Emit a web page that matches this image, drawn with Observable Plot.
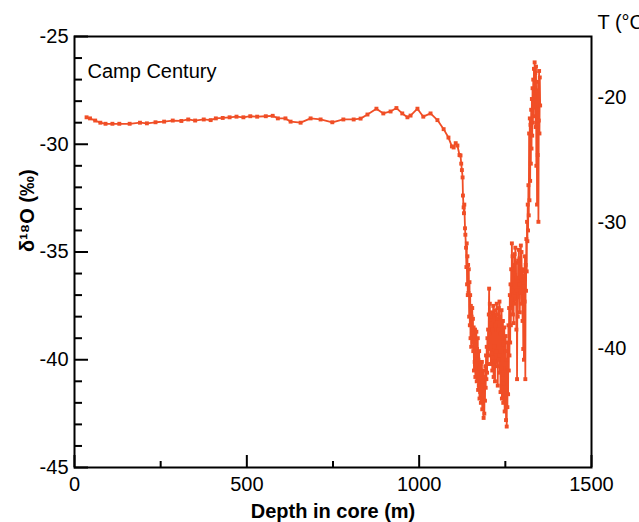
<!DOCTYPE html>
<html><head><meta charset="utf-8">
<script src="https://cdn.jsdelivr.net/npm/d3@7"></script>
<script src="https://cdn.jsdelivr.net/npm/@observablehq/plot@0.6"></script>
<style>html,body{margin:0;padding:0;overflow:hidden;background:#fff}</style>
</head><body><div id="chart"></div>
<script>
// Depth (m) and δ18O (‰)
const depth = [
 35,45,60,75,90,110,130,160,190,210,235,260,285,310,330,350,375,395,410,430,450,470,490,510,530,555,575,590,612,627,656,685,714,748,780,810,830,850,876,896,917,934,951,966,975,995,1012,1033,1053,1071,1085,1095,1100,1106,1111,1117,
 1120,1122,1124,1126,1127,1129,1130,1131,1133,1134,1136,
 1137,1138,1139,1140,1141,1142,1143,1144,1145,1146,1147,1148,1149,1150,1151,1152,1153,1154,1155,1156,1157,
 1158,1159,1160,1161,1162,1163,1164,1165,1166,1167,1168,1169,1170,1171,1172,1173,1174,1175,1176,1177,1178,1179,1180,1181,1182,1183,1184,1185,1186,1187,1188,1189,1190,1191,1192,1193,1194,1195,1196,1197,1198,1199,
 1200,1201,1202,1203,1204,1205,1206,1207,1208,1209,1210,1211,1212,1213,1214,1215,1216,1217,1218,1219,1220,1221,1222,1223,1224,1225,1226,1227,1228,1229,1230,1231,1232,1233,1234,1235,1236,1237,1238,1239,1240,1241,1242,1243,1244,1245,1246,1247,1248,1249,1250,1251,1252,1253,1254,1255,1256,1257,1258,1259,1260,1261,1262,
 1263,1264,1265,1266,1267,1268,1269,1270,1271,1272,1273,1274,1275,1276,1277,1278,1279,1280,1281,1282,1283,1284,1285,1286,1287,1288,1289,1290,1291,1292,1293,1294,1295,1296,1297,1298,1299,1300,1301,1302,1303,1304,1305,1306,1307,1308,1309,1310,1311,1312,
 1313,1314,1315,1316,1317,1318,1319,1320,1321,1322,1323,1324,1325,1326,1327,1328,1329,1330,1331,1332,1333,1334,1335,1336,1337,1338,1339,1340,1341,1342,1343,1344,1345,1346,1347,1348,1349,1350,1351
];
const d18O = [
 -28.75,-28.8,-28.9,-29.0,-29.05,-29.05,-29.05,-29.05,-29.0,-29.03,-28.98,-28.95,-28.9,-28.92,-28.85,-28.9,-28.85,-28.88,-28.8,-28.78,-28.75,-28.72,-28.75,-28.7,-28.72,-28.7,-28.68,-28.8,-28.8,-28.95,-29.0,-28.8,-28.85,-28.98,-28.85,-28.85,-28.81,-28.62,-28.35,-28.57,-28.48,-28.32,-28.57,-28.75,-28.67,-28.35,-28.72,-28.57,-28.88,-29.3,-29.69,-30.1,-30.15,-29.95,-30.06,-30.5,
 -30.52,-30.9,-31.2,-31.54,-32.38,-32.93,-33.2,-32.8,-33.9,-34.2,-34.8,
 -35.7,-34.6,-36.5,-35.2,-37.0,-35.6,-36.9,-35.8,-38.0,-36.4,-38.4,-37.0,-39.0,-37.5,-39.4,-38.0,-38.8,-37.6,-39.2,-38.1,-39.6,
 -38.5,-40.5,-38.9,-40.1,-38.6,-40.8,-39.3,-40.2,-38.7,-41.0,-39.5,-40.6,-39.0,-41.4,-40.0,-41.2,-39.6,-41.8,-40.4,-41.5,-40.2,-42.0,-40.7,-41.6,-40.1,-42.3,-41.0,-41.9,-40.5,-42.7,-41.2,-42.5,-40.8,-41.9,-40.3,-41.3,-39.8,-40.9,-39.4,-40.6,-39.0,-40.2,
 -38.6,-39.8,-37.9,-36.7,-38.8,-37.4,-39.5,-38.0,-40.2,-38.3,-39.7,-37.8,-40.5,-38.6,-39.9,-37.5,-40.8,-38.2,-39.4,-37.7,-41.0,-38.4,-40.1,-37.9,-39.6,-37.4,-40.3,-38.1,-41.2,-38.6,-40.0,-37.6,-39.8,-37.3,-40.6,-38.0,-41.5,-38.8,-40.4,-37.7,-41.8,-39.0,-40.7,-38.2,-42.0,-39.3,-41.1,-38.5,-42.4,-39.6,-41.4,-38.9,-42.8,-40.0,-43.1,-40.4,-42.2,-39.2,-41.6,-38.4,-40.5,-37.6,-39.8,
 -37.0,-39.2,-36.5,-38.4,-35.8,-37.6,-34.6,-36.8,-35.2,-37.9,-35.6,-38.3,-36.0,-37.4,-35.1,-36.9,-34.8,-37.2,-35.5,-38.6,-36.2,-40.9,-36.8,-38.0,-35.4,-37.1,-34.9,-36.5,-35.3,-37.8,-35.7,-36.9,-34.7,-36.3,-35.0,-37.4,-35.8,-38.2,-36.1,-39.5,-36.6,-40.0,-35.9,-37.3,-35.2,-40.9,-35.6,-36.8,-34.4,-35.9,
 -33.6,-34.5,-32.8,-34.0,-31.9,-33.3,-29.5,-32.6,-28.8,-31.7,-29.1,-30.9,-28.4,-30.2,-27.9,-29.6,-27.4,-29.0,-27.0,-28.7,-26.5,-28.3,-26.2,-27.8,-26.7,-29.2,-26.4,-31.0,-27.5,-32.8,-28.4,-30.5,-27.1,-33.6,-28.9,-26.6,-29.5,-26.9,-28.2
];
const xMajor = [0, 500, 1000, 1500];
const xMinor = [250, 750, 1250];
const yMajor = [-45, -40, -35, -30, -25];
const yMinor = [-44,-43,-42,-41,-39,-38,-37,-36,-34,-33,-32,-31,-29,-28,-27,-26];
const tTicks = [-20, -30, -40];
// δ18O = tIntercept + tSlope * T (right-hand temperature axis)
const tIntercept = -16.18;
const tSlope = 0.5825;
const lineColor = "#f04e26";

const data = depth.map((d, i) => ({depth: d, d18O: d18O[i]}));

const chart = Plot.plot({
  width: 639,
  height: 522,
  marginLeft: 74,
  marginRight: 48,
  marginTop: 36,
  marginBottom: 55,
  x: {domain: [0, 1500]},
  y: {domain: [-45, -25]},
  style: {fontFamily: "'Liberation Sans', Arial, sans-serif", fontSize: "20px", color: "#000", background: "#fff"},
  marks: [
    Plot.line(data, {x: "depth", y: "d18O", stroke: lineColor, strokeWidth: 1.8}),
    Plot.dot(data, {x: "depth", y: "d18O", symbol: "square", r: 2.2, fill: lineColor}),
    Plot.frame({stroke: "#000", strokeWidth: 2}),
    Plot.axisY({ticks: yMajor, tickSize: -14, tickFormat: () => "", strokeWidth: 2, label: null}),
    Plot.axisY({ticks: yMinor, tickSize: -8, tickFormat: () => "", strokeWidth: 2, label: null}),
    Plot.axisY({ticks: yMajor, tickSize: 0, tickPadding: 6, tickFormat: d => String(d), label: null}),
    Plot.axisX({ticks: xMajor, tickSize: -12, tickFormat: () => "", strokeWidth: 2, label: null}),
    Plot.axisX({ticks: xMinor, tickSize: -6, tickFormat: () => "", strokeWidth: 2, label: null}),
    Plot.axisX({ticks: xMajor, tickSize: 0, tickPadding: 9, tickFormat: d => String(d), label: null}),
    Plot.axisY({anchor: "right", ticks: tTicks.map(t => tIntercept + tSlope * t), tickSize: 0, tickPadding: 6,
      tickFormat: d => String(Math.round((d - tIntercept) / tSlope)), label: null}),
    Plot.text(["Camp Century"], {frameAnchor: "top-left", dx: 13, dy: 35, lineAnchor: "middle", textAnchor: "start", fontSize: 20}),
    Plot.text(["T (°C)"], {frameAnchor: "top-right", dx: 6, dy: -14, lineAnchor: "middle", textAnchor: "start", fontSize: 20}),
    Plot.text(["δ¹⁸O (‰)"], {frameAnchor: "left", dx: -47, rotate: -90, fontWeight: "bold", fontSize: 20}),
    Plot.text(["Depth in core (m)"], {frameAnchor: "bottom", dy: 44, lineAnchor: "middle", fontWeight: "bold", fontSize: 20})
  ]
});
document.getElementById("chart").appendChild(chart);
</script>
</body></html>
